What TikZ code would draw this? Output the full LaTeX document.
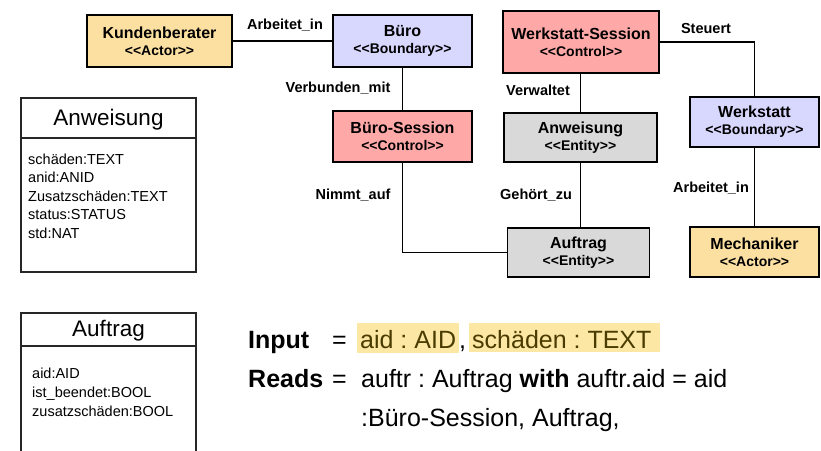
\documentclass[tikz,border=0pt]{standalone}
\usepackage{fontspec}
\setmainfont{Liberation Sans}
\frenchspacing
\definecolor{actorfill}{HTML}{FCE0A2}
\definecolor{boundaryfill}{HTML}{D8D8FF}
\definecolor{controlfill}{HTML}{FFA8A8}
\definecolor{entityfill}{HTML}{D9D9D9}
\definecolor{markfill}{HTML}{FCE7A4}
\definecolor{marktext}{HTML}{4A3C00}
\tikzset{
  robust/.style={draw=black, line width=1.6pt, inner sep=0pt, align=center,
    font=\bfseries\fontsize{16}{18}\selectfont},
  actor/.style={robust, fill=actorfill},
  boundary/.style={robust, fill=boundaryfill},
  control/.style={robust, fill=controlfill},
  entity/.style={robust, fill=entityfill},
  link/.style={draw=black, line width=1.6pt},
  linklabel/.style={font=\bfseries\fontsize{14.5}{16}\selectfont, inner sep=0pt},
  classbox/.style={draw=black!85, line width=1.1pt},
  classtitle/.style={font=\fontsize{22.5}{24}\selectfont, inner sep=0pt},
  attr/.style={font=\fontsize{14.5}{16}\selectfont, inner sep=0pt, anchor=base west},
  big/.style={font=\fontsize{25}{28}\selectfont, inner sep=0pt, anchor=base west},
  highlight/.style={fill=markfill, draw=none},
}
\newcommand{\stereo}[1]{\\[-1pt]{\fontsize{14}{16}\selectfont #1}}
\begin{document}
\begin{tikzpicture}[x=1pt, y=-1pt]
\useasboundingbox (0,0) rectangle (821,450);
\begin{scope}
\clip (0,0) rectangle (821,450);

% robustness diagram boxes
\node[actor, minimum width=145pt, minimum height=52pt] (kb) at (159.5,41) {Kundenberater\stereo{<{}<Actor>{}>}};
\node[boundary, minimum width=139pt, minimum height=52pt] (buero) at (402.5,41) {Büro\stereo{<{}<Boundary>{}>}};
\node[control, minimum width=139pt, minimum height=51pt] (bs) at (402.5,136.5) {Büro-Session\stereo{<{}<Control>{}>}};
\node[control, minimum width=156pt, minimum height=62pt] (ws) at (581,42) {Werkstatt-Session\stereo{<{}<Control>{}>}};
\node[entity, minimum width=153pt, minimum height=49pt] (anw) at (580.5,137.5) {Anweisung\stereo{<{}<Entity>{}>}};
\node[entity, minimum width=142pt, minimum height=49pt] (auf) at (578.5,252.5) {Auftrag\stereo{<{}<Entity>{}>}};
\node[boundary, minimum width=129pt, minimum height=50pt] (wst) at (754.5,122) {Werkstatt\stereo{<{}<Boundary>{}>}};
\node[actor, minimum width=129pt, minimum height=50pt] (mech) at (754.5,252) {Mechaniker\stereo{<{}<Actor>{}>}};

% associations
\draw[link] (kb.east) -- (buero.west);
\draw[link] (buero.south) -- (bs.north);
\draw[link] (bs.south) |- (auf.west);
\draw[link] (anw.north) -- (anw.north |- ws.south);
\draw[link] (anw.south) -- (anw.south |- auf.north);
\draw[link] (ws.east) -| (wst.north);
\draw[link] (wst.south) -- (mech.north);

% association names
\node[linklabel] (l1) at (285,25) {Arbeitet\_in};
\node[linklabel] (l2) at (338,88) {Verbunden\_mit};
\node[linklabel] (l3) at (706,29) {Steuert};
\node[linklabel] (l4) at (538,90) {Verwaltet};
\node[linklabel] (l5) at (353,195) {Nimmt\_auf};
\node[linklabel] (l6) at (536,195) {Gehört\_zu};
\node[linklabel] (l7) at (711,188) {Arbeitet\_in};

% class Anweisung
\draw[classbox] (21,98) rectangle (196,272);
\draw[classbox] (21,138) -- (196,138);
\node[classtitle] (anwtitle) at (108.5,120) {Anweisung};
\node[attr] (a1) at (28,164) {schäden:TEXT};
\node[attr] (a2) at (28,182.5) {anid:ANID};
\node[attr] (a3) at (28,201) {Zusatzschäden:TEXT};
\node[attr] (a4) at (28,219.5) {status:STATUS};
\node[attr] (a5) at (28,238) {std:NAT};

% class Auftrag
\draw[classbox] (21,313) rectangle (196,470);
\draw[classbox] (21,346) -- (196,346);
\node[classtitle] (auftitle) at (108.5,331) {Auftrag};
\node[attr] (b1) at (32,378) {aid:AID};
\node[attr] (b2) at (32,397) {ist\_beendet:BOOL};
\node[attr] (b3) at (32,416) {zusatzschäden:BOOL};

% operation schema
\fill[highlight] (357,323) rectangle (459,353);
\fill[highlight] (469,323) rectangle (660,352);
\node[big] (inp) at (248,348) {\bfseries Input};
\node[big] (eq1) at (332,348) {=};
\node[big, text=marktext] (in1) at (360,348) {aid : AID};
\node[big] (comma) at (459,348) {,};
\node[big, text=marktext] (in2) at (472,348) {schäden : TEXT};
\node[big] (rd) at (248,387) {\bfseries Reads};
\node[big] (eq2) at (332,387) {=};
\node[big] (rd1) at (361,387) {auftr : Auftrag \textbf{with} auftr.aid = aid};
\node[big] (rd2) at (361,426) {:Büro-Session, Auftrag,};
\end{scope}
\end{tikzpicture}
\end{document}
